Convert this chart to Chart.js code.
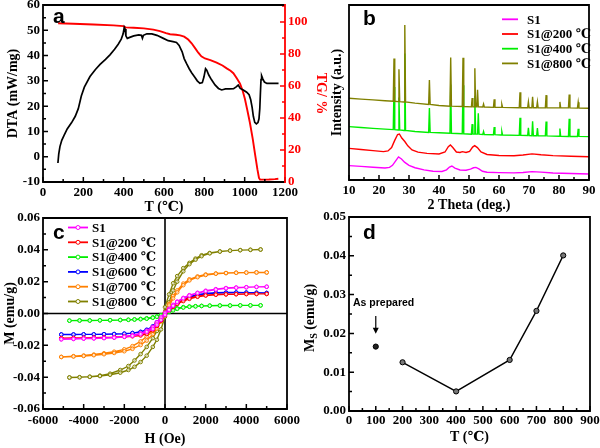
<!DOCTYPE html>
<html>
<head>
<meta charset="utf-8">
<script src="https://cdn.jsdelivr.net/npm/chart.js@4.4.0/dist/chart.umd.min.js"></script>
<style>
  body { margin: 0; width: 600px; height: 448px; position: relative; background: #fff; overflow: hidden; }
  canvas { position: absolute; }
</style>
</head>
<body>
<canvas id="chartA" width="330" height="224" style="left:0;top:0"></canvas>
<canvas id="chartB" width="300" height="224" style="left:300px;top:0"></canvas>
<canvas id="chartC" width="300" height="240" style="left:0;top:208px"></canvas>
<canvas id="chartD" width="300" height="240" style="left:300px;top:208px"></canvas>
<script>
// ---------- panel a: DTA / TG ----------
const dtaTemp = [74, 78, 84, 93, 105, 120, 142, 160, 175, 190, 205, 233, 260, 283, 310, 332, 355, 373, 388, 397, 403, 407, 411, 418, 430, 450, 475, 488, 493, 498, 515, 540, 565, 597, 621, 645, 662, 675, 690, 700, 712, 725, 737, 752, 765, 778, 790, 798, 806, 812, 822, 835, 853, 870, 886, 905, 925, 945, 958, 968, 978, 993, 1010, 1022, 1030, 1037, 1043, 1050, 1058, 1066, 1071, 1075, 1078, 1081, 1084, 1090, 1098, 1110, 1130, 1150, 1168];
const dtaValue = [-2.5, 1, 4, 6.5, 8.5, 11, 13.5, 16, 19, 24, 27.5, 31.7, 34.5, 36.5, 38.5, 40.3, 42.5, 44.5, 46.5, 48.5, 51.2, 50.5, 47.8, 46.8, 47.2, 47.8, 48.2, 48.0, 46.8, 48.0, 48.6, 48.6, 48.0, 46.8, 45.9, 45.5, 45.2, 44.0, 41.5, 38.8, 36.8, 34.8, 33.2, 31.5, 30.0, 29.0, 29.3, 31.5, 34.8, 34.2, 32.3, 30.5, 28.4, 27.0, 26.4, 26.8, 26.8, 26.9, 27.6, 28.3, 27.0, 26.4, 25.5, 24.5, 22.5, 19.5, 16.0, 13.6, 13.0, 13.5, 15.0, 19.0, 25.0, 30.5, 32.0, 30.8, 29.5, 29.0, 29.0, 29.0, 29.0];
const tgTemp = [75, 150, 250, 350, 398, 410, 450, 500, 547, 580, 610, 630, 660, 680, 700, 720, 737, 755, 770, 785, 803, 830, 861, 890, 911, 930, 944, 960, 977, 990, 1001, 1013, 1026, 1040, 1052, 1063, 1071, 1076, 1090, 1120, 1150, 1167];
const tgValue = [99.2, 98.9, 98.4, 97.9, 97.4, 96.6, 96.4, 96.0, 95.2, 94.3, 93.0, 92.3, 92.0, 91.6, 90.8, 89.0, 86.7, 83.5, 80.8, 78.5, 77.2, 76.2, 74.6, 72.8, 71.0, 69.5, 68.0, 65.0, 61.5, 57.0, 52.0, 45.0, 37.0, 27.0, 17.0, 8.0, 2.5, 1.5, 1.5, 1.6, 1.8, 2.0];

// ---------- panel b: XRD, [2theta, intensity a.u.] ----------
const xrdS1 = [[10, 8.2], [14, 7.8], [18, 7.3], [22, 6.9], [23.5, 7.2], [24.5, 8.4], [25.5, 10.8], [26.5, 13.2], [27.5, 12.0], [28.5, 10.2], [30, 8.4], [32, 7.0], [35, 5.8], [38, 5.0], [41, 4.9], [42.5, 5.8], [43.5, 7.4], [44.3, 8.0], [45.3, 6.8], [47, 5.7], [49, 5.6], [50.5, 6.2], [51.5, 7.0], [52.3, 7.2], [53.3, 6.3], [54.5, 5.0], [56, 4.4], [60, 4.2], [65, 4.1], [68, 4.3], [71, 4.8], [74, 4.5], [78, 4.0], [84, 3.7], [90, 3.4]];
const xrdS200 = [[10, 18.1], [14, 17.4], [18, 16.8], [21.5, 16.2], [23, 16.6], [24.2, 18.5], [25.2, 22.5], [26.2, 26.0], [26.8, 26.3], [27.6, 24.0], [28.6, 22.0], [29.6, 19.5], [31, 17.2], [33, 15.9], [36, 15.2], [40, 14.9], [42, 16.0], [43.1, 19.0], [43.8, 20.0], [44.6, 18.6], [45.8, 16.0], [47, 15.7], [47.8, 16.2], [49, 15.7], [50.2, 16.4], [51.2, 18.8], [51.9, 19.6], [52.8, 18.5], [54, 16.0], [56, 14.6], [60, 14.0], [65, 13.9], [68, 14.3], [71, 14.9], [74, 14.4], [78, 13.9], [84, 13.6], [90, 13.3]];
const xrdS400 = [[10, 30.5], [14, 30.0], [18, 29.5], [22, 29.1], [24.75, 28.8], [25.0, 53.2], [25.25, 28.8], [26.4, 28.6], [26.65, 47.1], [26.9, 28.6], [28.35, 28.3], [28.6, 72.3], [28.85, 28.3], [32, 27.7], [36.55, 27.2], [36.8, 41.1], [37.05, 27.2], [40, 27.0], [43.65, 26.7], [43.9, 54.5], [44.15, 26.7], [47.75, 26.4], [48.0, 54.2], [48.25, 26.4], [50.8, 26.2], [51.05, 31.9], [51.3, 26.2], [51.7, 26.2], [51.95, 48.2], [52.2, 26.2], [52.85, 26.2], [53.1, 38.2], [53.35, 26.2], [54.6, 26.0], [54.85, 27.7], [55.1, 26.0], [58.15, 25.9], [58.4, 30.3], [58.65, 25.9], [60.7, 25.7], [60.95, 27.7], [61.2, 25.7], [66.75, 25.5], [67.0, 35.6], [67.25, 25.5], [69.55, 25.4], [69.8, 29.8], [70.05, 25.4], [70.95, 25.3], [71.2, 33.5], [71.45, 25.3], [72.55, 25.3], [72.8, 29.7], [73.05, 25.3], [75.45, 25.2], [75.7, 33.4], [75.95, 25.2], [80.05, 25.0], [80.3, 29.4], [80.55, 25.0], [83.15, 24.9], [83.4, 35.0], [83.65, 24.9], [86.15, 24.9], [86.4, 29.3], [86.65, 24.9], [90, 24.8]];
const xrdS800 = [[10, 46.7], [14, 46.2], [18, 45.8], [22, 45.3], [24.75, 45.0], [25.0, 69.4], [25.25, 45.0], [26.4, 44.8], [26.65, 63.3], [26.9, 44.8], [28.35, 44.6], [28.6, 88.6], [28.85, 44.6], [32, 43.9], [36.55, 43.2], [36.8, 57.1], [37.05, 43.2], [40, 42.6], [43.65, 42.2], [43.9, 70.0], [44.15, 42.2], [47.75, 42.0], [48.0, 69.8], [48.25, 42.0], [50.8, 41.8], [51.05, 46.8], [51.3, 41.8], [51.7, 41.8], [51.95, 63.8], [52.2, 41.8], [52.6, 41.8], [52.85, 51.5], [53.1, 41.8], [54.6, 41.7], [54.85, 43.4], [55.1, 41.7], [58.15, 41.5], [58.4, 46.1], [58.65, 41.5], [60.7, 41.5], [60.95, 43.2], [61.2, 41.5], [66.75, 41.3], [67.0, 50.1], [67.25, 41.3], [69.55, 41.3], [69.8, 44.7], [70.05, 41.3], [70.95, 41.3], [71.2, 47.6], [71.45, 41.3], [72.55, 41.3], [72.8, 44.7], [73.05, 41.3], [75.45, 41.2], [75.7, 48.5], [75.95, 41.2], [80.05, 41.2], [80.3, 44.6], [80.55, 41.2], [83.15, 41.2], [83.4, 48.9], [83.65, 41.2], [86.15, 41.1], [86.4, 44.5], [86.65, 41.1], [90, 41.0]];

// ---------- panel c: M-H loops ----------
const fieldDown = [5000, 4500, 4000, 3500, 3000, 2500, 2000, 1600, 1200, 900, 600, 400, 200, 0, -200, -400, -600, -900, -1200, -1600, -2000, -2500, -3000, -3500, -4000, -4500, -5100];
const fieldUp = [-5100, -4500, -4000, -3500, -3000, -2500, -2000, -1600, -1200, -900, -600, -400, -200, 0, 200, 400, 600, 900, 1200, 1600, 2000, 2500, 3000, 3500, 4000, 4500, 5000];
const fieldDownN = [4700, 4200, 3700, 3200, 2700, 2200, 1800, 1500, 1200, 900, 600, 400, 200, 0, -200, -400, -600, -900, -1200, -1500, -1800, -2200, -2700, -3200, -3700, -4200, -4700];
const fieldUpN = [-4700, -4200, -3700, -3200, -2700, -2200, -1800, -1500, -1200, -900, -600, -400, -200, 0, 200, 400, 600, 900, 1200, 1500, 1800, 2200, 2700, 3200, 3700, 4200, 4700];

const mS1Down = [0.0168, 0.0167, 0.0165, 0.0163, 0.016, 0.0153, 0.0143, 0.013, 0.0115, 0.0098, 0.0075, 0.0055, 0.003, 0.0005, -0.0025, -0.0055, -0.0085, -0.0108, -0.0125, -0.0137, -0.0145, -0.015, -0.0153, -0.0155, -0.0157, -0.0159, -0.0162];
const mS1Up = [-0.0162, -0.016, -0.0158, -0.0157, -0.0155, -0.0152, -0.0147, -0.0141, -0.013, -0.0116, -0.0097, -0.007, -0.004, -0.0008, 0.0022, 0.0048, 0.0072, 0.0095, 0.0112, 0.0128, 0.014, 0.015, 0.0158, 0.0162, 0.0165, 0.0167, 0.0168];
const m200Down = [0.0123, 0.0123, 0.0123, 0.0122, 0.0121, 0.0119, 0.0115, 0.0108, 0.0097, 0.0085, 0.0065, 0.0048, 0.0025, 0.0003, -0.003, -0.006, -0.0088, -0.0115, -0.013, -0.014, -0.0145, -0.0149, -0.0151, -0.0152, -0.0153, -0.0154, -0.0155];
const m200Up = [-0.0155, -0.0154, -0.0153, -0.0152, -0.0151, -0.0149, -0.0146, -0.0143, -0.0138, -0.0128, -0.0105, -0.0078, -0.0045, -0.001, 0.002, 0.0042, 0.006, 0.0078, 0.0092, 0.0105, 0.0113, 0.0118, 0.012, 0.0121, 0.0122, 0.0123, 0.0123];
const m400Down = [0.0051, 0.0051, 0.0051, 0.005, 0.005, 0.0049, 0.0048, 0.0046, 0.0044, 0.004, 0.0033, 0.0025, 0.0014, 0.0002, -0.001, -0.0018, -0.0024, -0.003, -0.0034, -0.0037, -0.0039, -0.0041, -0.0042, -0.0043, -0.0044, -0.0044, -0.0045];
const m400Up = [-0.0045, -0.0044, -0.0044, -0.0043, -0.0042, -0.0041, -0.004, -0.0038, -0.0036, -0.0033, -0.0027, -0.0021, -0.0013, -0.0003, 0.0009, 0.0019, 0.0029, 0.0037, 0.0042, 0.0045, 0.0047, 0.0049, 0.005, 0.005, 0.0051, 0.0051, 0.0051];
const m600Down = [0.0129, 0.013, 0.0131, 0.0132, 0.0132, 0.013, 0.0126, 0.0118, 0.0105, 0.0088, 0.0065, 0.0048, 0.0025, 0.0002, -0.0028, -0.0055, -0.008, -0.0102, -0.0115, -0.0123, -0.0127, -0.0129, -0.013, -0.0131, -0.0131, -0.0132, -0.0132];
const m600Up = [-0.0132, -0.0132, -0.0131, -0.0131, -0.013, -0.0129, -0.0127, -0.0123, -0.0117, -0.0105, -0.0088, -0.0065, -0.0035, -0.0005, 0.002, 0.0042, 0.0062, 0.0085, 0.0102, 0.0115, 0.0123, 0.0128, 0.013, 0.0131, 0.0131, 0.013, 0.0129];
const m700Down = [0.0258, 0.0258, 0.0257, 0.0256, 0.0254, 0.0251, 0.0245, 0.0233, 0.0215, 0.0188, 0.0145, 0.011, 0.006, 0.0005, -0.004, -0.0075, -0.011, -0.0145, -0.0175, -0.0205, -0.0225, -0.024, -0.025, -0.0258, -0.0264, -0.0268, -0.0273];
const m700Up = [-0.0273, -0.027, -0.0267, -0.0262, -0.0256, -0.0248, -0.0237, -0.0222, -0.0198, -0.017, -0.013, -0.0095, -0.005, -0.0005, 0.005, 0.0095, 0.0133, 0.0178, 0.0208, 0.0228, 0.0242, 0.025, 0.0254, 0.0256, 0.0257, 0.0258, 0.0258];
const m800Down = [0.0402, 0.04, 0.0398, 0.0395, 0.039, 0.038, 0.0366, 0.0345, 0.0318, 0.0285, 0.0235, 0.019, 0.012, 0.004, -0.004, -0.011, -0.0155, -0.021, -0.0255, -0.0295, -0.033, -0.0355, -0.0378, -0.039, -0.0397, -0.04, -0.0402];
const m800Up = [-0.0402, -0.0401, -0.0398, -0.0393, -0.0385, -0.0372, -0.0355, -0.0335, -0.0305, -0.0265, -0.021, -0.0165, -0.01, -0.002, 0.007, 0.0145, 0.02, 0.0265, 0.031, 0.0338, 0.036, 0.0378, 0.0389, 0.0395, 0.0398, 0.04, 0.0402];

// ---------- panel d: Ms vs T ----------
const msTemp = [200, 400, 600, 700, 800];
const msValue = [0.01256, 0.00505, 0.01316, 0.0258, 0.0401];
const asPreparedTemp = [100];
const asPreparedValue = [0.0166];

Chart.defaults.font.family = '"Liberation Serif", "DejaVu Serif", serif';
Chart.defaults.font.weight = 'bold';
Chart.defaults.font.size = 13;
Chart.defaults.font.lineHeight = 1;
Chart.defaults.color = '#000';

function pts(xs, ys) {
    return xs.map((x, i) => ({ x: x, y: ys[i] }));
}
function pairs(arr) {
    return arr.map(p => ({ x: p[0], y: p[1] }));
}
function loop(hDown, mDown, hUp, mUp) {
    return pts(hDown, mDown).concat(pts(hUp, mUp));
}

const noGrid = { display: false, drawTicks: false };
const plain = v => String(v);      // no thousands separator
const twoDec = v => v.toFixed(2);

// fixes the size of an axis box so the plot areas line up with the figure
function sizeX(h) {
    return s => { s.height = h; s.paddingLeft = 0; s.paddingRight = 0; };
}
function sizeY(w) {
    return s => { s.width = w; s.paddingTop = 0; s.paddingBottom = 0; };
}

// box around plot area, inward ticks, optional zero lines
const framePlugin = {
    id: 'frame',
    beforeDatasetsDraw(chart, args, opts) {
        if (!opts.zeroLines) return;
        const { ctx, chartArea: a, scales } = chart;
        const x0 = scales.x.getPixelForValue(0);
        const y0 = scales.y.getPixelForValue(0);
        ctx.save();
        ctx.strokeStyle = '#000';
        ctx.lineWidth = 1.6;
        ctx.beginPath();
        ctx.moveTo(x0, a.top); ctx.lineTo(x0, a.bottom);
        ctx.moveTo(a.left, y0); ctx.lineTo(a.right, y0);
        ctx.stroke();
        ctx.restore();
    },
    afterDatasetsDraw(chart, args, opts) {
        const { ctx, chartArea: a, scales } = chart;
        ctx.save();
        ctx.lineWidth = 1.5;
        (opts.ticks || []).forEach(t => {
            const s = scales[t.scale];
            const n = Math.floor((s.max - s.min) / t.minor + 1e-6);
            ctx.strokeStyle = t.color || '#000';
            ctx.beginPath();
            for (let i = 0; i <= n; i++) {
                const v = s.min + i * t.minor;
                const r = v / t.major;
                const len = Math.abs(r - Math.round(r)) < 1e-6 ? 5 : 3;
                const p = s.getPixelForValue(v);
                if (t.side === 'bottom') { ctx.moveTo(p, a.bottom); ctx.lineTo(p, a.bottom - len); }
                if (t.side === 'left') { ctx.moveTo(a.left, p); ctx.lineTo(a.left + len, p); }
                if (t.side === 'right') { ctx.moveTo(a.right, p); ctx.lineTo(a.right - len, p); }
            }
            ctx.stroke();
        });
        ctx.lineWidth = 1.8;
        ctx.strokeStyle = '#000';
        ctx.beginPath();
        ctx.moveTo(a.right, a.top); ctx.lineTo(a.left, a.top);
        ctx.lineTo(a.left, a.bottom); ctx.lineTo(a.right, a.bottom);
        ctx.stroke();
        ctx.strokeStyle = opts.rightColor || '#000';
        ctx.beginPath();
        ctx.moveTo(a.right, a.top - 0.9); ctx.lineTo(a.right, a.bottom + 0.9);
        ctx.stroke();
        ctx.restore();
    }
};

// panel letter and line legend
const notesPlugin = {
    id: 'notes',
    afterDraw(chart, args, opts) {
        const { ctx, chartArea: a } = chart;
        ctx.save();
        if (opts.letter) {
            ctx.font = 'bold 21px "Liberation Sans", Arial, sans-serif';
            ctx.fillStyle = '#000';
            ctx.textBaseline = 'alphabetic';
            ctx.fillText(opts.letter, a.left + opts.letterX, a.top + opts.letterY);
        }
        if (opts.legend) {
            const L = opts.legend;
            chart.data.datasets.forEach((ds, i) => {
                const y = a.top + L.y + i * L.step;
                const x1 = a.left + L.x;
                const x2 = x1 + L.len;
                ctx.strokeStyle = ds.borderColor;
                ctx.lineWidth = 1.8;
                ctx.beginPath(); ctx.moveTo(x1, y); ctx.lineTo(x2, y); ctx.stroke();
                if (L.marker) {
                    ctx.fillStyle = '#fff';
                    ctx.lineWidth = 1;
                    ctx.beginPath(); ctx.arc((x1 + x2) / 2, y, 2, 0, Math.PI * 2); ctx.fill(); ctx.stroke();
                }
                ctx.fillStyle = '#000';
                ctx.font = 'bold 13px "Liberation Serif", "DejaVu Serif", serif';
                ctx.textBaseline = 'middle';
                ctx.fillText(ds.label, x2 + L.gap, y + 1);
            });
        }
        ctx.restore();
    }
};

// ---------- panel a ----------
new Chart(document.getElementById('chartA'), {
    type: 'scatter',
    data: {
        datasets: [
            { label: 'DTA', data: pts(dtaTemp, dtaValue), showLine: true, borderColor: '#000', borderWidth: 1.7, pointRadius: 0, yAxisID: 'y' },
            { label: 'TG', data: pts(tgTemp, tgValue), showLine: true, borderColor: '#f00', borderWidth: 1.9, pointRadius: 0, yAxisID: 'y2' }
        ]
    },
    options: {
        responsive: false, animation: false, devicePixelRatio: 1,
        layout: { padding: { top: 5, left: 0, right: 0, bottom: 0 } },
        plugins: {
            legend: { display: false }, tooltip: { enabled: false },
            frame: {
                rightColor: '#f00',
                ticks: [
                    { scale: 'x', side: 'bottom', major: 200, minor: 100 },
                    { scale: 'y', side: 'left', major: 10, minor: 5 },
                    { scale: 'y2', side: 'right', major: 20, minor: 10, color: '#f00' }
                ]
            },
            notes: { letter: 'a', letterX: 10, letterY: 18 }
        },
        scales: {
            x: {
                type: 'linear', min: 0, max: 1200, grid: noGrid, border: { display: false },
                ticks: { stepSize: 200, padding: 4, autoSkip: false, maxRotation: 0, callback: plain },
                title: { display: true, text: 'T (℃)', font: { size: 14 }, padding: { top: 0, bottom: 10 } },
                afterFit: sizeX(42)
            },
            y: {
                position: 'left', min: -10, max: 60, grid: noGrid, border: { display: false },
                ticks: { stepSize: 10, padding: 3, callback: plain },
                title: { display: true, text: 'DTA (mW/mg)', font: { size: 14 }, padding: { top: 6, bottom: 0 } },
                afterFit: sizeY(43)
            },
            y2: {
                position: 'right', min: 0, max: 110.6, grid: noGrid, border: { display: false },
                ticks: { stepSize: 20, padding: 3, color: '#f00', includeBounds: false, callback: plain },
                title: { display: true, text: 'TG/ %', color: '#f00', font: { size: 14 }, padding: { top: 2, bottom: 0 } },
                afterFit: sizeY(45)
            }
        }
    },
    plugins: [framePlugin, notesPlugin]
});

// ---------- panel b ----------
new Chart(document.getElementById('chartB'), {
    type: 'scatter',
    data: {
        datasets: [
            { label: 'S1', data: pairs(xrdS1), showLine: true, borderColor: '#ff00ff', borderWidth: 1.4, pointRadius: 0, order: 3 },
            { label: 'S1@200 ℃', data: pairs(xrdS200), showLine: true, borderColor: '#ff0000', borderWidth: 1.4, pointRadius: 0, order: 2 },
            { label: 'S1@400 ℃', data: pairs(xrdS400), showLine: true, borderColor: '#00ee00', borderWidth: 1.4, pointRadius: 0, order: 1 },
            { label: 'S1@800 ℃', data: pairs(xrdS800), showLine: true, borderColor: '#808000', borderWidth: 1.4, pointRadius: 0, order: 0 }
        ]
    },
    options: {
        responsive: false, animation: false, devicePixelRatio: 1,
        layout: { padding: { top: 5, left: 0, right: 11, bottom: 0 } },
        plugins: {
            legend: { display: false }, tooltip: { enabled: false },
            frame: { ticks: [{ scale: 'x', side: 'bottom', major: 10, minor: 5 }] },
            notes: { letter: 'b', letterX: 14, letterY: 20, legend: { x: 153, y: 14.3, step: 14.7, len: 16, gap: 9 } }
        },
        scales: {
            x: {
                type: 'linear', min: 10, max: 90, grid: noGrid, border: { display: false },
                ticks: { stepSize: 10, padding: 4, autoSkip: false, maxRotation: 0, callback: plain },
                title: { display: true, text: '2 Theta (deg.)', font: { size: 14 }, padding: { top: 0, bottom: 12 } },
                afterFit: sizeX(44)
            },
            y: {
                min: 0, max: 100, grid: noGrid, border: { display: false },
                ticks: { display: false },
                title: { display: true, text: 'Intensity (a.u.)', font: { size: 14 }, padding: { top: 30, bottom: 0 } },
                afterFit: sizeY(49)
            }
        }
    },
    plugins: [framePlugin, notesPlugin]
});

// ---------- panel c ----------
function loopSet(label, color, data) {
    return {
        label: label, data: data, showLine: true, borderColor: color, borderWidth: 1.4,
        pointRadius: 1.8, pointBorderWidth: 1, pointBorderColor: color, pointBackgroundColor: 'rgba(255,255,255,0.6)'
    };
}
new Chart(document.getElementById('chartC'), {
    type: 'scatter',
    data: {
        datasets: [
            loopSet('S1', '#ff00ff', loop(fieldDown, mS1Down, fieldUp, mS1Up)),
            loopSet('S1@200 ℃', '#ff0000', loop(fieldDown, m200Down, fieldUp, m200Up)),
            loopSet('S1@400 ℃', '#00ee00', loop(fieldDownN, m400Down, fieldUpN, m400Up)),
            loopSet('S1@600 ℃', '#0000ff', loop(fieldDown, m600Down, fieldUp, m600Up)),
            loopSet('S1@700 ℃', '#ff8000', loop(fieldDown, m700Down, fieldUp, m700Up)),
            loopSet('S1@800 ℃', '#808000', loop(fieldDownN, m800Down, fieldUpN, m800Up))
        ]
    },
    options: {
        responsive: false, animation: false, devicePixelRatio: 1,
        layout: { padding: { top: 10, left: 0, right: 13, bottom: 0 } },
        plugins: {
            legend: { display: false }, tooltip: { enabled: false },
            frame: {
                zeroLines: true,
                ticks: [
                    { scale: 'x', side: 'bottom', major: 2000, minor: 1000 },
                    { scale: 'y', side: 'left', major: 0.02, minor: 0.01 }
                ]
            },
            notes: { letter: 'c', letterX: 10, letterY: 21, legend: { x: 25, y: 9.5, step: 14.8, len: 20, gap: 4, marker: true } }
        },
        scales: {
            x: {
                type: 'linear', min: -6000, max: 6000, grid: noGrid, border: { display: false },
                ticks: { stepSize: 2000, padding: 5, autoSkip: false, maxRotation: 0, callback: plain },
                title: { display: true, text: 'H (Oe)', font: { size: 14 }, padding: { top: 0, bottom: 2 } },
                afterFit: sizeX(39)
            },
            y: {
                min: -0.06, max: 0.06, grid: noGrid, border: { display: false },
                ticks: { stepSize: 0.02, padding: 3, callback: twoDec },
                title: { display: true, text: 'M (emu/g)', font: { size: 14 }, padding: { top: 3, bottom: 0 } },
                afterFit: sizeY(43)
            }
        }
    },
    plugins: [framePlugin, notesPlugin]
});

// ---------- panel d ----------
const panelDExtras = {
    id: 'panelDExtras',
    afterDraw(chart) {
        const { ctx, chartArea: a, scales } = chart;
        ctx.save();
        // y title with subscript
        ctx.fillStyle = '#000';
        ctx.translate(10, (a.top + a.bottom) / 2 + 4);
        ctx.rotate(-Math.PI / 2);
        ctx.textBaseline = 'middle';
        const big = 'bold 14px "Liberation Serif", serif';
        const small = 'bold 10px "Liberation Serif", serif';
        ctx.font = big; const wM = ctx.measureText('M').width;
        const wRest = ctx.measureText(' (emu/g)').width;
        ctx.font = small; const wS = ctx.measureText('S').width;
        let x = -(wM + wS + wRest) / 2;
        ctx.font = big; ctx.fillText('M', x, 0); x += wM;
        ctx.font = small; ctx.fillText('S', x, 4); x += wS;
        ctx.font = big; ctx.fillText(' (emu/g)', x, 0);
        ctx.restore();

        // "As prepared" note with arrow
        ctx.save();
        const xs = scales.x, ys = scales.y;
        const ax = xs.getPixelForValue(asPreparedTemp[0]);
        ctx.fillStyle = '#000';
        ctx.font = 'bold 10.5px "Liberation Sans", Arial, sans-serif';
        ctx.textAlign = 'left';
        ctx.textBaseline = 'middle';
        ctx.fillText('As prepared', a.left + 4, ys.getPixelForValue(0.0277));
        const yTop = ys.getPixelForValue(0.0245);
        const yTip = ys.getPixelForValue(0.0199);
        ctx.strokeStyle = '#000';
        ctx.lineWidth = 1.2;
        ctx.beginPath(); ctx.moveTo(ax, yTop); ctx.lineTo(ax, yTip - 4); ctx.stroke();
        ctx.beginPath(); ctx.moveTo(ax - 3, yTip - 6); ctx.lineTo(ax + 3, yTip - 6); ctx.lineTo(ax, yTip); ctx.closePath(); ctx.fill();
        ctx.restore();
    }
};
new Chart(document.getElementById('chartD'), {
    type: 'scatter',
    data: {
        datasets: [
            { label: 'Ms', data: pts(msTemp, msValue), showLine: true, borderColor: '#000', borderWidth: 1.4, pointRadius: 2.6, pointBorderWidth: 1, pointBorderColor: '#000', pointBackgroundColor: '#777' },
            { label: 'As prepared', data: pts(asPreparedTemp, asPreparedValue), showLine: false, pointRadius: 2.6, pointBorderWidth: 1, pointBorderColor: '#000', pointBackgroundColor: '#222' }
        ]
    },
    options: {
        responsive: false, animation: false, devicePixelRatio: 1,
        layout: { padding: { top: 9, left: 0, right: 10, bottom: 0 } },
        plugins: {
            legend: { display: false }, tooltip: { enabled: false },
            frame: {
                ticks: [
                    { scale: 'x', side: 'bottom', major: 100, minor: 50 },
                    { scale: 'y', side: 'left', major: 0.01, minor: 0.005 }
                ]
            },
            notes: { letter: 'd', letterX: 14, letterY: 22 }
        },
        scales: {
            x: {
                type: 'linear', min: 0, max: 900, grid: noGrid, border: { display: false },
                ticks: { stepSize: 100, padding: 3, autoSkip: false, maxRotation: 0, callback: plain },
                title: { display: true, text: 'T (℃)', font: { size: 14 }, padding: { top: 0, bottom: 4 } },
                afterFit: sizeX(37)
            },
            y: {
                min: 0, max: 0.05, grid: noGrid, border: { display: false },
                ticks: { stepSize: 0.01, padding: 3, callback: twoDec },
                title: { display: false },
                afterFit: sizeY(49)
            }
        }
    },
    plugins: [framePlugin, notesPlugin, panelDExtras]
});
</script>
</body>
</html>
